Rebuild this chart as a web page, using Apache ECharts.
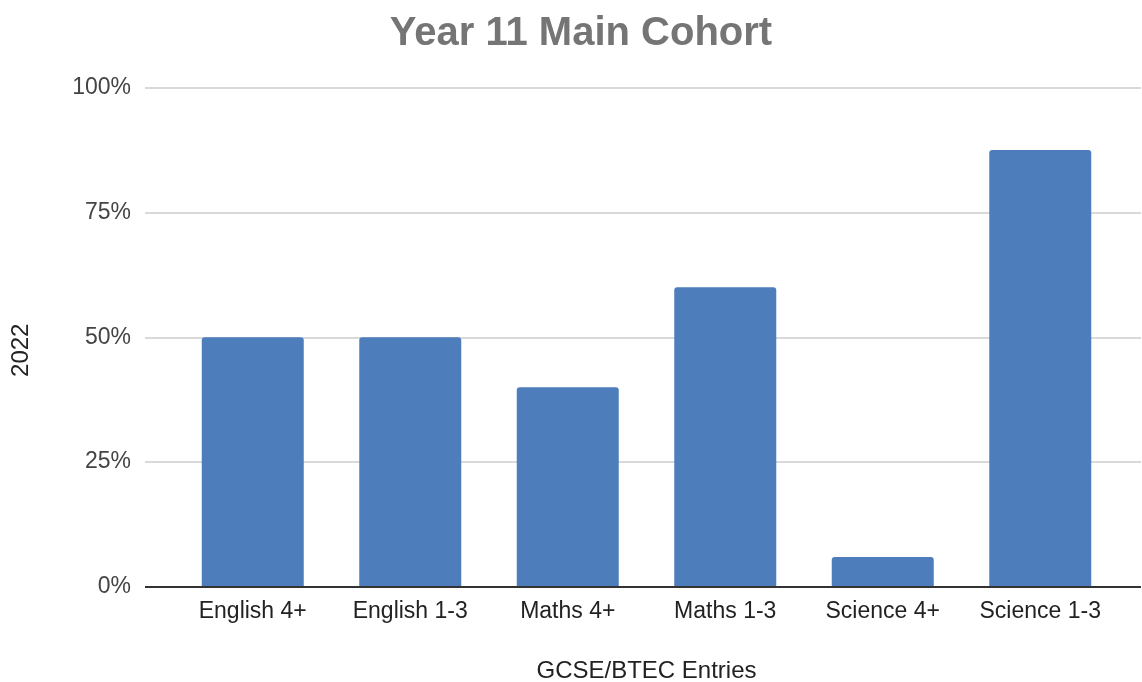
<!DOCTYPE html>
<html>
<head>
<meta charset="utf-8">
<script src="https://cdn.jsdelivr.net/npm/echarts@6/dist/echarts.min.js"></script>
<style>html,body{margin:0;padding:0;background:#fff;}#c{width:1142px;height:682px;}</style>
</head>
<body>
<div id="c"></div>
<script>
const categories = ['English 4+', 'English 1-3', 'Maths 4+', 'Maths 1-3', 'Science 4+', 'Science 1-3'];
const values = [50, 50, 40, 60, 6, 87.5];
const yTicks = [0, 25, 50, 75, 100];

const chart = echarts.init(document.getElementById('c'));
const font = 'Liberation Sans, Arial, sans-serif';
chart.setOption({
  animation: false,
  title: {
    text: 'Year 11 Main Cohort',
    left: 576, top: 9, textAlign: 'center',
    textStyle: { fontFamily: font, fontSize: 40, fontWeight: 'bold', color: '#757575' }
  },
  grid: [
    { left: 145, right: 1, top: 87.5, bottom: 95, containLabel: false, outerBoundsMode: 'none' },
    { left: 174, right: 23, top: 87.5, bottom: 95, containLabel: false, outerBoundsMode: 'none' }
  ],
  xAxis: [
    { gridIndex: 0, type: 'value', min: 0, max: 1, show: false },
    {
      gridIndex: 1, type: 'category', data: categories,
      axisLine: { show: false }, axisTick: { show: false },
      axisLabel: { fontFamily: font, fontSize: 23, color: '#222', margin: 13, interval: 0 },
      name: 'GCSE/BTEC Entries', nameLocation: 'middle', nameGap: 72,
      nameTextStyle: { fontFamily: font, fontSize: 24, color: '#222' }
    }
  ],
  yAxis: [
    {
      gridIndex: 0, type: 'value', min: yTicks[0], max: yTicks[yTicks.length - 1], interval: 25,
      axisLine: { show: false }, axisTick: { show: false },
      axisLabel: { fontFamily: font, fontSize: 23, color: '#444', margin: 14, formatter: '{value}%' },
      splitLine: { lineStyle: { color: '#cccccc', width: 1.5 } },
      name: '2022', nameLocation: 'middle', nameGap: 112, nameRotate: 90,
      nameTextStyle: { fontFamily: font, fontSize: 24, color: '#222', padding: [0, 26, 0, 0] }
    },
    { gridIndex: 1, type: 'value', min: 0, max: 100, show: false }
  ],
  series: [
    {
      type: 'line', xAxisIndex: 0, yAxisIndex: 0, data: [[0, 0], [1, 0]],
      symbol: 'none', lineStyle: { color: '#333', width: 2 }, silent: true, z: 5
    },
    {
      type: 'bar', xAxisIndex: 1, yAxisIndex: 1, data: values, barWidth: 102,
      itemStyle: { color: '#4d7ebb', borderRadius: [3, 3, 0, 0] }, z: 3
    }
  ]
});
</script>
</body>
</html>
